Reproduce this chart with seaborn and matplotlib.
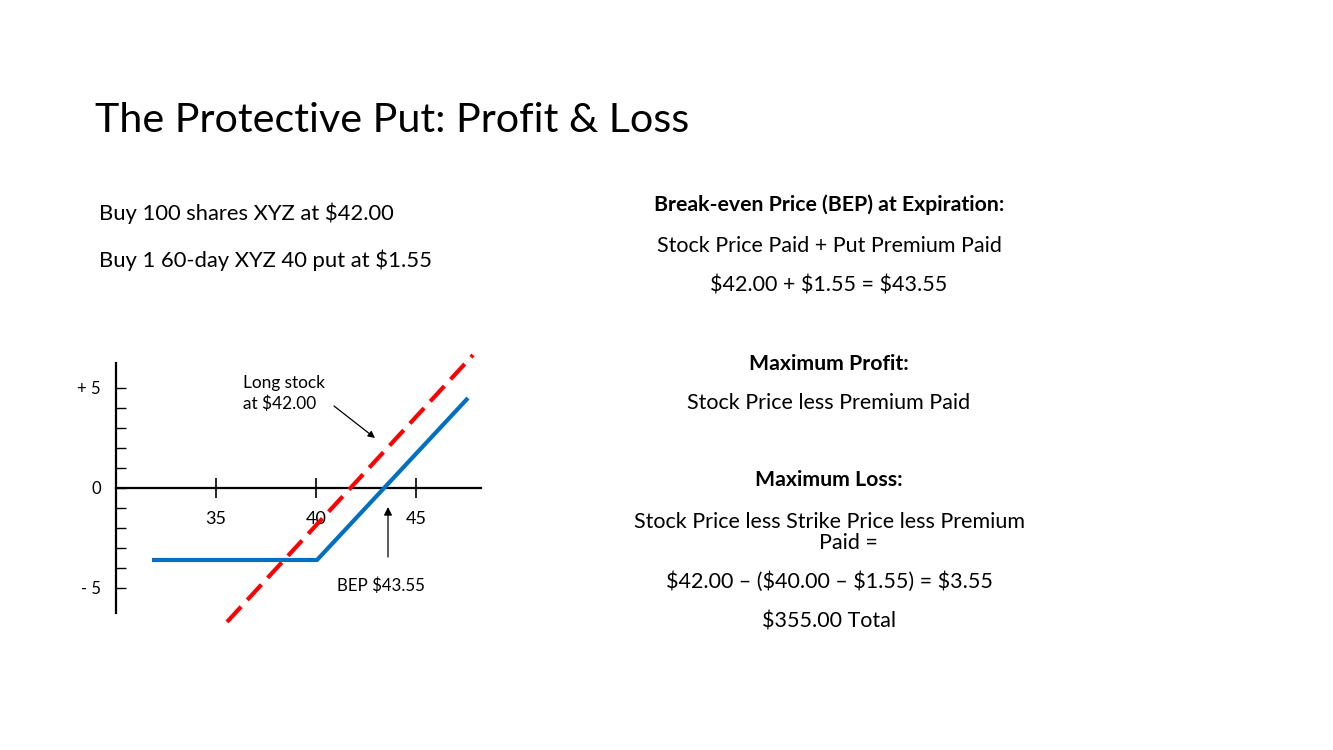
import matplotlib
matplotlib.use("Agg")
import matplotlib.pyplot as plt
import seaborn as sns
import pandas as pd

sns.set_style("white")
plt.rcParams['font.family'] = ['Lato', 'DejaVu Sans']
plt.rcParams['text.parse_math'] = False
plt.rcParams['text.color'] = 'black'
plt.rcParams['xtick.color'] = 'black'
plt.rcParams['ytick.color'] = 'black'
plt.rcParams['xtick.labelcolor'] = 'black'
plt.rcParams['ytick.labelcolor'] = 'black'

# ---- data ----
put_price = [31.8, 40.05, 47.6]
put_pl = [-3.6, -3.6, 4.5]
stock_price = [35.55, 47.85]
stock_pl = [-6.7, 6.65]
x_ticks = [35, 40, 45]
x_tick_labels = ["35", "40", "45"]
y_ticks = [-5, 0, 5]
y_tick_labels = ["- 5", "0", "+ 5"]
y_minor = [-4, -3, -2, -1, 1, 2, 3, 4]

title = "The Protective Put: Profit & Loss"
left_lines = ["Buy 100 shares XYZ at $42.00", "Buy 1 60-day XYZ 40 put at $1.55"]

W, H = 1333, 750
fig = plt.figure(figsize=(W / 100, H / 100), dpi=100)
fig.patch.set_facecolor("white")

def fx(px):
    return px / W

def fy(py):
    return 1 - (py + 2) / H

# ---- axes: x 29..49 -> px 96..496 ; y -7.5..7.5 -> px 638..338
ax = fig.add_axes([96 / W, 1 - 638 / H, 400 / W, 300 / H])
ax.set_xlim(29, 49)
ax.set_ylim(-7.5, 7.5)
ax.patch.set_alpha(0)

stock_df = pd.DataFrame({"price": stock_price, "pl": stock_pl})
put_df = pd.DataFrame({"price": put_price, "pl": put_pl})
sns.lineplot(data=stock_df, x="price", y="pl", ax=ax, color="#FF0000",
             lw=3.0, dashes=False, sort=False, estimator=None)
ax.lines[-1].set_dashes((5, 2.2))
ax.lines[-1].set_dash_capstyle("butt")
sns.lineplot(data=put_df, x="price", y="pl", ax=ax, color="#0070C0",
             lw=3.0, sort=False, estimator=None)
ax.lines[-1].set_solid_capstyle("butt")

for s in ["top", "right"]:
    ax.spines[s].set_visible(False)
ax.spines["left"].set_position(("data", 30))
ax.spines["left"].set_bounds(-6.25, 6.25)
ax.spines["bottom"].set_position(("data", 0))
ax.spines["bottom"].set_bounds(30, 48.25)
for s in ["left", "bottom"]:
    ax.spines[s].set_color("black")
    ax.spines[s].set_linewidth(1.6)
    ax.spines[s].set_zorder(1)

ax.set_xticks(x_ticks)
ax.set_xticklabels(x_tick_labels)
ax.set_yticks(y_ticks)
ax.set_yticklabels(y_tick_labels)
ax.set_yticks(y_minor, minor=True)
ax.tick_params(axis="x", which="major", direction="inout", length=14.4, width=1.2,
               color="black", labelsize=13, pad=9, bottom=True)
ax.tick_params(axis="y", which="both", direction="in", length=7.2, width=1.0,
               color="black", labelsize=12, pad=11, left=True)
ax.tick_params(axis="y", which="minor", length=7.2)
ax.set_xlabel("")
ax.set_ylabel("")
ax.grid(False)

ax.annotate("", xy=(42.95, 2.5), xytext=(40.9, 4.1),
            arrowprops=dict(arrowstyle="-|>", color="black", lw=0.9,
                            mutation_scale=10, shrinkA=0, shrinkB=0))
ax.text(36.35, 4.72, "Long stock\nat $42.00", ha="left", va="center",
        fontsize=12.4, linespacing=1.35)
ax.annotate("", xy=(43.6, -0.95), xytext=(43.6, -3.45),
            arrowprops=dict(arrowstyle="-|>", color="black", lw=0.9,
                            mutation_scale=12, shrinkA=0, shrinkB=0))
ax.text(41.05, -4.88, "BEP $43.55", ha="left", va="center", fontsize=12.2)

# ---- text ----
fig.text(fx(95), fy(118), title, ha="left", va="center", fontsize=29.7)
fig.text(fx(99), fy(211), left_lines[0], ha="left", va="center", fontsize=15.8)
fig.text(fx(99), fy(258), left_lines[1], ha="left", va="center", fontsize=15.8)

cx = fx(829)
fs = 15.5
fb = 15.3
fig.text(cx, fy(203), "Break-even Price (BEP) at Expiration:", ha="center", va="center",
         fontsize=fb, fontweight="bold")
fig.text(cx, fy(244), "Stock Price Paid + Put Premium Paid", ha="center", va="center", fontsize=fs)
fig.text(cx, fy(283), "$42.00 + $1.55 = $43.55", ha="center", va="center", fontsize=fs)
fig.text(cx, fy(362), "Maximum Profit:", ha="center", va="center", fontsize=fb, fontweight="bold")
fig.text(cx, fy(401), "Stock Price less Premium Paid", ha="center", va="center", fontsize=fs)
fig.text(cx, fy(478), "Maximum Loss:", ha="center", va="center", fontsize=fb, fontweight="bold")
fig.text(cx, fy(520), "Stock Price less Strike Price less Premium", ha="center", va="center", fontsize=fs)
fig.text(fx(848), fy(541), "Paid =", ha="center", va="center", fontsize=fs)
fig.text(cx, fy(580), "$42.00 \u2013 ($40.00 \u2013 $1.55) = $3.55", ha="center", va="center", fontsize=fs)
fig.text(cx, fy(620), "$355.00 Total", ha="center", va="center", fontsize=fs)

fig.savefig("out.png", dpi=100, facecolor="white")
